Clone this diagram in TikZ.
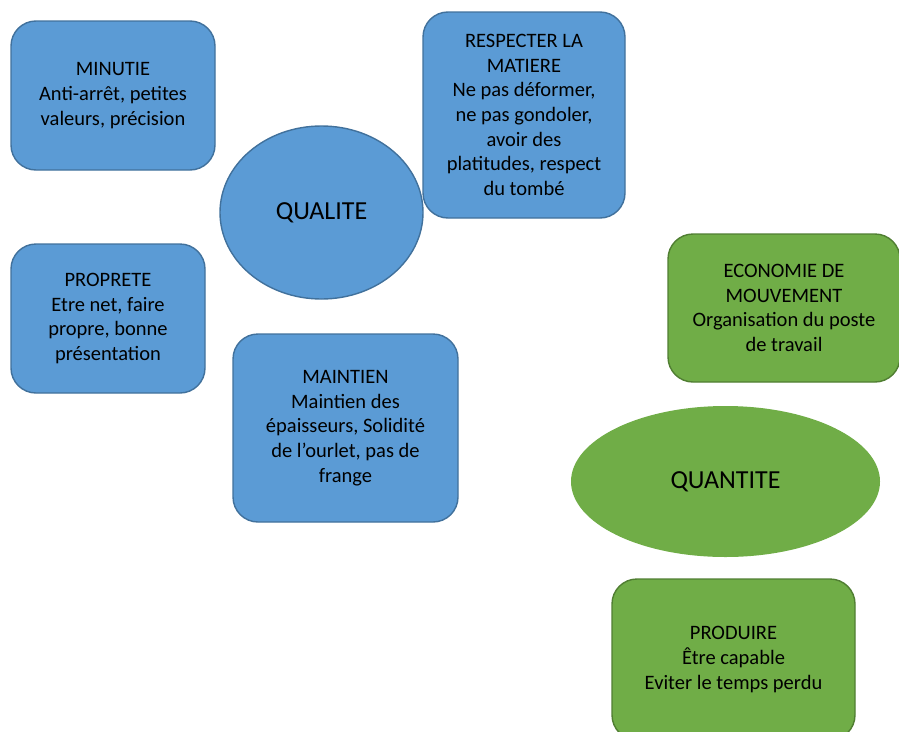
\documentclass[tikz,border=0pt]{standalone}
\usepackage{fontspec}
\setmainfont{Carlito}
\usetikzlibrary{shapes.geometric}

\definecolor{qualfill}{HTML}{5B9BD5}
\definecolor{qualdraw}{HTML}{41719C}
\definecolor{quantfill}{HTML}{70AD47}
\definecolor{quantdraw}{HTML}{507E32}

\begin{document}
\begin{tikzpicture}[
    x=1pt, y=-1pt,
    % Styles
    box/.style={
        rectangle,
        rounded corners=25pt,
        inner sep=0pt,
        line width=1.4pt,
        align=center,
        font=\fontsize{20.5}{24.6}\selectfont
    },
    qualbox/.style={
        box,
        fill=qualfill,
        draw=qualdraw
    },
    quantbox/.style={
        box,
        fill=quantfill,
        draw=quantdraw
    },
    theme/.style={
        ellipse,
        inner sep=0pt,
        line width=1.4pt,
        font=\fontsize{26}{30}\selectfont
    }
]
    \useasboundingbox (0,0) rectangle (899,731);
    \clip (0,0) rectangle (899,731);

    % Qualite
    \node[theme, fill=qualfill, draw=qualdraw, minimum width=203pt, minimum height=173pt] (qualite) at (321.5,212.5) {QUALITE};
    \node[qualbox, minimum width=204pt, minimum height=149pt] (minutie) at (113,95.5)
        {MINUTIE\\Anti-arrêt, petites\\valeurs, précision};
    \node[qualbox, minimum width=202pt, minimum height=206pt] (matiere) at (524,115)
        {RESPECTER LA\\MATIERE\\Ne pas déformer,\\ne pas gondoler,\\avoir des\\platitudes, respect\\du tombé};
    \node[qualbox, minimum width=194pt, minimum height=149pt] (proprete) at (108,318.5)
        {PROPRETE\\Etre net, faire\\propre, bonne\\présentation};
    \node[qualbox, minimum width=225pt, minimum height=188pt] (maintien) at (345.5,428)
        {MAINTIEN\\Maintien des\\épaisseurs, Solidité\\de l’ourlet, pas de\\frange};

    % Quantite
    \node[quantbox, minimum width=232pt, minimum height=148pt] (economie) at (784,308)
        {ECONOMIE DE\\MOUVEMENT\\Organisation du poste\\de travail};
    \node[theme, fill=quantfill, minimum width=309pt, minimum height=151pt] (quantite) at (725.5,481.5) {QUANTITE};
    \node[quantbox, minimum width=243pt, minimum height=161pt] (produire) at (733.5,659.5)
        {PRODUIRE\\Être capable\\Eviter le temps perdu};
\end{tikzpicture}
\end{document}
